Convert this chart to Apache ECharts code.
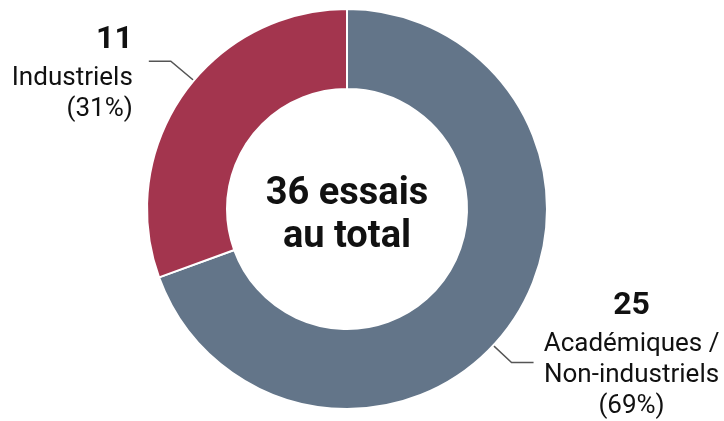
<!DOCTYPE html>
<html><head><meta charset="utf-8">
<script src="https://cdn.jsdelivr.net/npm/echarts@6/dist/echarts.min.js"></script>
<style>html,body{margin:0;padding:0;background:#fff}#c{width:724px;height:421px}</style>
</head><body><div id="c"></div>
<script>
// ---- data ----
const categories = ['Académiques / Non-industriels', 'Industriels'];
const labelLines = [['Académiques /', 'Non-industriels'], ['Industriels']];
const values = [25, 11];
const colors = ['#637589', '#a3354e'];
const totalLabel = ['36 essais', 'au total'];

// ---- presentation ----
const CX = 347, CY = 209, R_IN = 120, R_OUT = 200;
const FONT = 'Roboto, "Noto Sans", sans-serif';
const guide = [
  {angle: -43, r0: 186, r1: 225, len: 22, gap: 98, dy: -79, align: 'center'},
  {angle: 140, r0: 175, r1: 230, len: 22, gap: 16, dy: -44, align: 'right'}
];

const chart = echarts.init(document.getElementById('c'), null, {renderer: 'canvas'});
chart.setOption({
  animation: false,
  backgroundColor: '#fff',
  graphic: [{
    type: 'text', x: CX, y: 216, silent: true,
    style: {
      text: totalLabel.join('\n'), font: 'bold 38px ' + FONT, fill: '#111',
      align: 'center', verticalAlign: 'middle', textAlign: 'center', textVerticalAlign: 'middle',
      lineHeight: 43
    }
  }],
  series: [{
    type: 'pie',
    center: [CX, CY],
    radius: [R_IN, R_OUT],
    startAngle: 90,
    clockwise: true,
    percentPrecision: 0,
    avoidLabelOverlap: false,
    emphasis: {disabled: true},
    itemStyle: {borderColor: '#fff', borderWidth: 2},
    label: {
      show: true, position: 'outside', color: '#111', fontFamily: FONT,
      formatter: function (p) {
        const s = p.dataIndex === 0 ? 'C' : 'R';
        const lines = ['{v' + s + '|' + p.value + '}'];
        labelLines[p.dataIndex].forEach(l => lines.push('{t' + s + '|' + l + '}'));
        lines.push('{t' + s + '|(' + p.percent + '%)}');
        return lines.join('\n');
      },
      rich: {
        vC: {fontSize: 32, fontWeight: 'bold', lineHeight: 46, align: 'center', color: '#111', fontFamily: FONT},
        tC: {fontSize: 26, lineHeight: 31, align: 'center', color: '#111', fontFamily: FONT},
        vR: {fontSize: 32, fontWeight: 'bold', lineHeight: 46, align: 'right', color: '#111', fontFamily: FONT},
        tR: {fontSize: 26, lineHeight: 31, align: 'right', color: '#111', fontFamily: FONT}
      }
    },
    labelLine: {show: true, lineStyle: {color: '#555', width: 1.5}},
    labelLayout: function (p) {
      const g = guide[p.dataIndex];
      const a = g.angle * Math.PI / 180;
      const p0 = [CX + g.r0 * Math.cos(a), CY - g.r0 * Math.sin(a)];
      const p1 = [CX + g.r1 * Math.cos(a), CY - g.r1 * Math.sin(a)];
      const dir = Math.cos(a) >= 0 ? 1 : -1;
      const p2 = [p1[0] + dir * g.len, p1[1]];
      return {
        x: p2[0] + dir * g.gap, y: p2[1] + g.dy,
        align: g.align, verticalAlign: 'top',
        labelLinePoints: [p0, p1, p2]
      };
    },
    data: categories.map((c, i) => ({name: c, value: values[i], itemStyle: {color: colors[i]}}))
  }]
});
</script></body></html>
